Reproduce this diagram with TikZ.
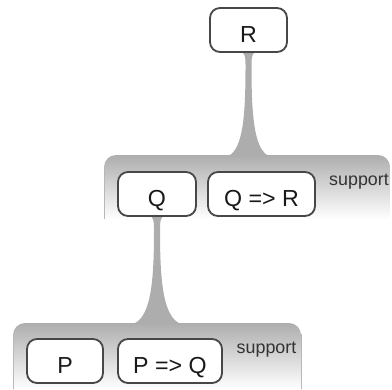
\documentclass[tikz,border=0pt]{standalone}
\usepackage{fontspec}
\setmainfont{Liberation Sans}
\usetikzlibrary{positioning, calc, backgrounds}

\begin{document}
\begin{tikzpicture}[
    x=0.025cm, y=-0.025cm,
    stmt/.style={draw=black!72, line width=1.3pt, fill=white, rounded corners=0.25cm,
        minimum height=1.1cm, inner ysep=0pt, text height=0.85cm, text depth=0.25cm,
        font=\fontsize{16.5}{19}\selectfont, text=black!90},
    shelf/.style={top color=black!32, bottom color=white, rounded corners=0.3cm},
    shelfedge/.style={draw=black!28, line width=0.7pt},
    stalk/.style={fill=black!32},
    tag/.style={anchor=base, font=\fontsize{12.7}{15}\selectfont, text=black!80},
]
\useasboundingbox (0,0) rectangle (392,389);
% goal and its support, top level
\node[stmt, minimum width=1.925cm] (r) at (248.5,30) {R};
\node[stmt, minimum width=1.95cm] (q) at (157,194) {Q};
\node[stmt, minimum width=2.675cm] (qr) at (261.5,194) {Q => R};
\node[tag] (sup1) at (359,185) {support};
% second level
\node[stmt, minimum width=1.9cm] (p) at (65,361) {P};
\node[stmt, minimum width=2.6cm] (pq) at (170,361) {P => Q};
\node[tag] (sup2) at (266.5,353) {support};

\begin{scope}[on background layer]
\shade[shelf] (104,219) -- (104,155) -- (390,155) -- (390,219);
\draw[shelfedge] (104,219) -- (104,166);
\shade[shelf] (13,389) -- (13,323) -- (301,323) -- (301,389);
\draw[shelfedge] (13,389) -- (13,334);
\draw[shelfedge] (301,389) -- (301,334);
% stalks from each goal down to its shelf, flaring at both ends
\fill[stalk] ($(r.south)+(-5.5,0)$)
    .. controls ($(r.south)+(-3,3)$) and ($(r.south)+(-3,6)$) .. ($(r.south)+(-3,14)$)
    .. controls ($(r.south)+(-3,66)$) and ($(r.south)+(-6,100)$) .. ($(r.south)+(-23,104)$)
    -- ($(r.south)+(23,104)$)
    .. controls ($(r.south)+(6,100)$) and ($(r.south)+(3,66)$) .. ($(r.south)+(3,14)$)
    .. controls ($(r.south)+(3,6)$) and ($(r.south)+(3,3)$) .. ($(r.south)+(5.5,0)$) -- cycle;
\fill[stalk] ($(q.south)+(-5.5,0)$)
    .. controls ($(q.south)+(-3,3)$) and ($(q.south)+(-3,6)$) .. ($(q.south)+(-3,14)$)
    .. controls ($(q.south)+(-3,70)$) and ($(q.south)+(-7,104)$) .. ($(q.south)+(-27,108)$)
    -- ($(q.south)+(27,108)$)
    .. controls ($(q.south)+(7,104)$) and ($(q.south)+(3,70)$) .. ($(q.south)+(3,14)$)
    .. controls ($(q.south)+(3,6)$) and ($(q.south)+(3,3)$) .. ($(q.south)+(5.5,0)$) -- cycle;
\end{scope}
\end{tikzpicture}
\end{document}
